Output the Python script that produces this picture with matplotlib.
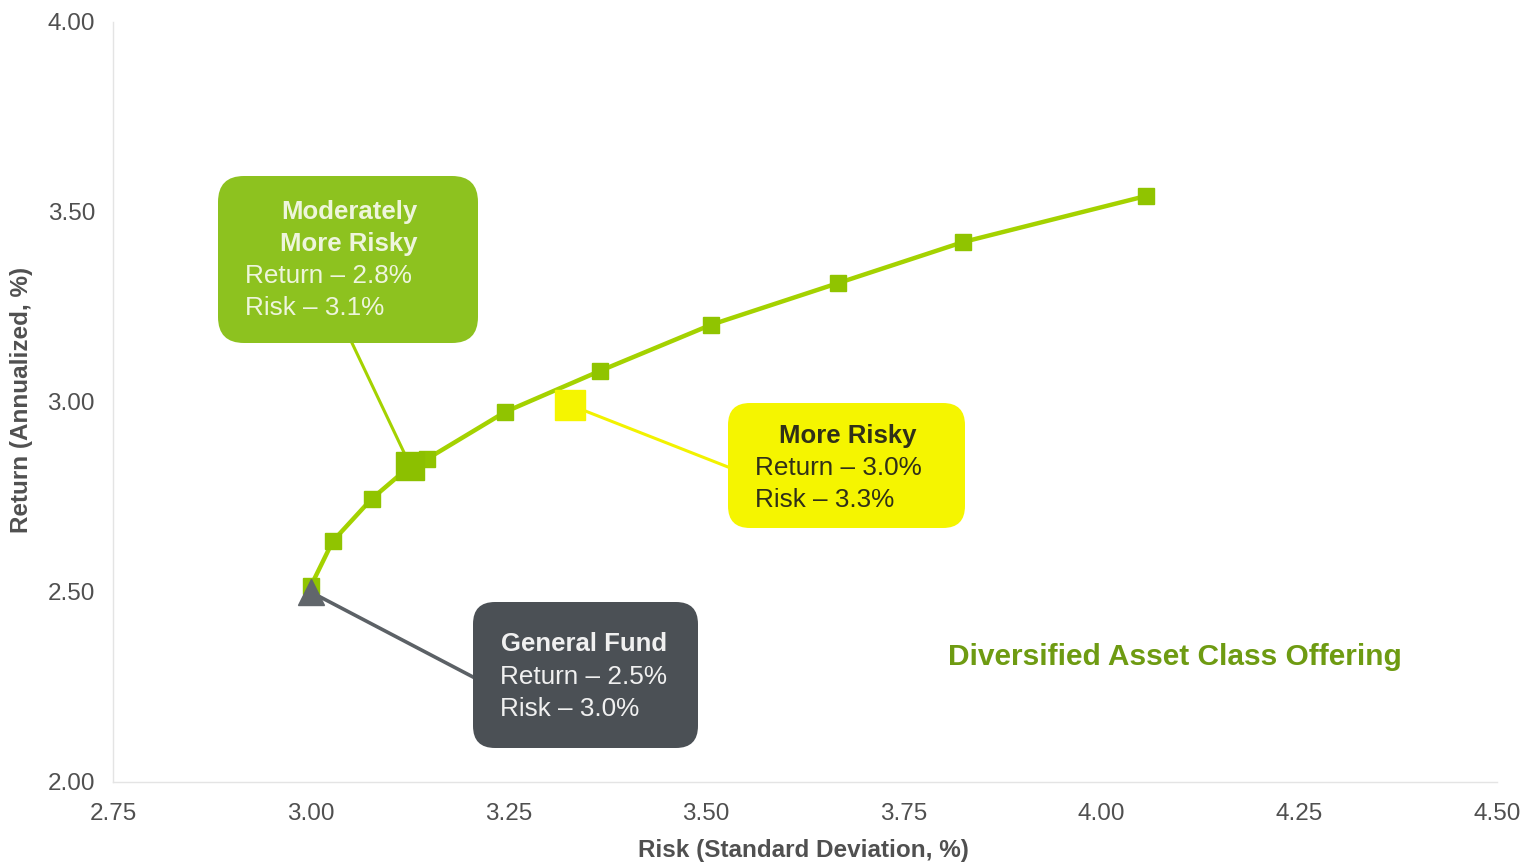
import matplotlib
matplotlib.use("Agg")
import matplotlib.pyplot as plt
from matplotlib.patches import FancyBboxPatch

plt.rcParams['font.family'] = ['Liberation Sans', 'DejaVu Sans']

# ---- data ----
frontier_risk = [3.00, 3.028, 3.077, 3.126, 3.147, 3.246, 3.366, 3.506, 3.667, 3.825, 4.056]
frontier_return = [2.515, 2.634, 2.745, 2.832, 2.850, 2.974, 3.082, 3.203, 3.313, 3.421, 3.542]

general_fund = (3.00, 2.50)
moderately_risky = (3.126, 2.832)
more_risky = (3.328, 2.992)

x_ticks = [2.75, 3.00, 3.25, 3.50, 3.75, 4.00, 4.25, 4.50]
y_ticks = [2.00, 2.50, 3.00, 3.50, 4.00]

W, H = 1526, 865
fig = plt.figure(figsize=(W / 100, H / 100), dpi=100)
ax = fig.add_axes([113 / W, 1 - 782 / H, (1497 - 113) / W, (782 - 22) / H])
ax.set_xlim(2.75, 4.50)
ax.set_ylim(2.00, 4.00)

def P(px, py):
    """pixel position (image coords) -> data coords (layout helper)"""
    x = 2.75 + (px - 113) / (1384 / 1.75)
    y = 2.00 + (782 - py) / (760 / 2.0)
    return x, y

line_green = '#a4d200'
marker_green = '#90c400'

# leader lines
x0, y0 = P(352, 343)
ax.plot([x0, moderately_risky[0]], [y0, moderately_risky[1]], color='#a4d200', lw=2.2, zorder=2)
x1, y1 = P(728, 467)
ax.plot([more_risky[0], x1], [more_risky[1], y1], color='#f2f200', lw=2.2, zorder=2)
x2, y2 = P(473, 677)
ax.plot([general_fund[0], x2], [general_fund[1], y2], color='#5c6166', lw=2.6, zorder=2)

# frontier
ax.plot(frontier_risk, frontier_return, color=line_green, lw=3.2, marker='s',
        markersize=12, markerfacecolor=marker_green, markeredgecolor=marker_green, zorder=3)

# highlighted points
ax.plot([moderately_risky[0]], [moderately_risky[1]], marker='s', markersize=20,
        color='#8cc000', zorder=4)
ax.plot([more_risky[0]], [more_risky[1]], marker='s', markersize=22,
        color='#f5f500', zorder=4)
ax.plot([general_fund[0]], [general_fund[1]], marker='^', markersize=19,
        color='#61666b', zorder=5)

# boxes
aspect = (1384 / 1.75) / (760 / 2.0)

def box(px0, py0, px1, py1, color, rad):
    xa, ya = P(px0, py1)
    xb, yb = P(px1, py0)
    r = rad / (1384 / 1.75)
    p = FancyBboxPatch((xa, ya), xb - xa, yb - ya,
                       boxstyle=f"round,pad=0,rounding_size={r}",
                       mutation_aspect=aspect, facecolor=color, edgecolor='none', zorder=6)
    ax.add_patch(p)

box(218, 176, 478, 343, '#8dc21f', 26)
box(728, 403, 965, 528, '#f5f500', 22)
box(473, 602, 698, 748, '#4b5055', 22)

def txt(px, py, s, color, bold=False, ha='left', size=18):
    x, y = P(px, py)
    ax.text(x, y, s, color=color, fontsize=size, fontweight='bold' if bold else 'normal',
            ha=ha, va='center', zorder=7)

hs, bs = 18.5, 18.8
light = '#eef5dc'
txt(349, 212, 'Moderately', light, bold=True, ha='center', size=hs)
txt(349, 244, 'More Risky', light, bold=True, ha='center', size=hs)
txt(245, 276, 'Return – 2.8%', light, size=bs)
txt(245, 308, 'Risk – 3.1%', light, size=bs)

dark = '#303018'
txt(848, 436, 'More Risky', dark, bold=True, ha='center', size=hs)
txt(755, 468, 'Return – 3.0%', dark, size=bs)
txt(755, 500, 'Risk – 3.3%', dark, size=bs)

white = '#f0f0f0'
txt(501, 644, 'General Fund', white, bold=True, size=hs)
txt(500, 677, 'Return – 2.5%', white, size=bs)
txt(500, 709, 'Risk – 3.0%', white, size=bs)

txt(948, 657, 'Diversified Asset Class Offering', '#6e9b12', bold=True, size=21.5)

# axes styling
for s in ['top', 'right']:
    ax.spines[s].set_visible(False)
for s in ['left', 'bottom']:
    ax.spines[s].set_color('#e4e4e4')
    ax.spines[s].set_linewidth(1.0)
ax.set_xticks(x_ticks)
ax.set_yticks(y_ticks)
ax.set_xticklabels([f"{v:.2f}" for v in x_ticks])
ax.set_yticklabels([f"{v:.2f}" for v in y_ticks])
ax.tick_params(axis='both', length=0, labelsize=17.5, labelcolor='#505050')
ax.tick_params(axis='x', pad=15)
ax.tick_params(axis='y', pad=13)

fig.text(803 / W, 1 - 850 / H, 'Risk (Standard Deviation, %)', ha='center', va='center',
         fontsize=17.5, fontweight='bold', color='#505050')
fig.text(22 / W, 1 - 400 / H, 'Return (Annualized, %)', ha='center', va='center',
         rotation=90, fontsize=17.5, fontweight='bold', color='#505050')

fig.savefig('out.png', dpi=100)
